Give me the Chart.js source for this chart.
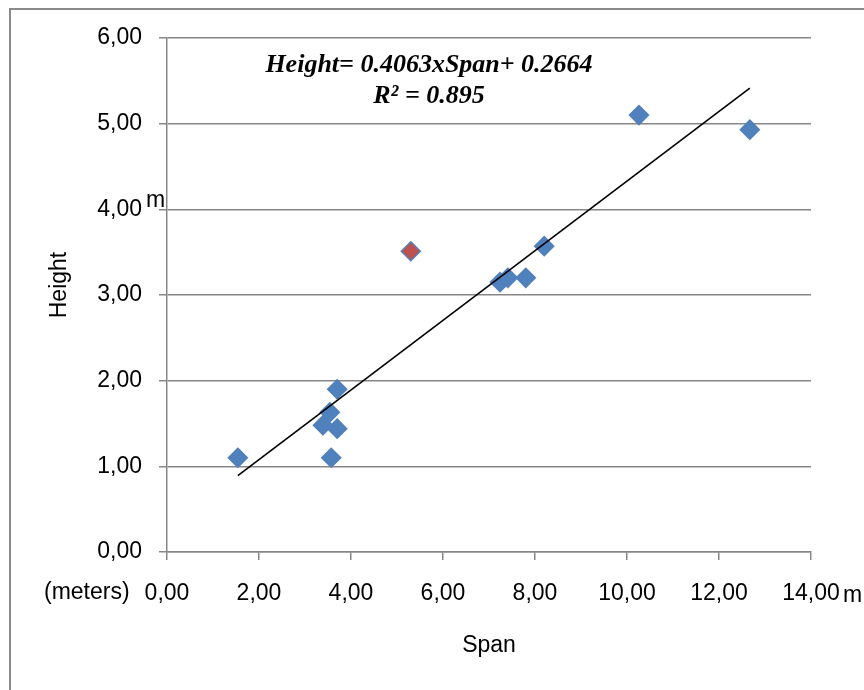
<!DOCTYPE html>
<html>
<head>
<meta charset="utf-8">
<script src="https://cdn.jsdelivr.net/npm/chart.js@4"></script>
<style>
  html, body { margin: 0; padding: 0; background: #fff; overflow: hidden; }
  #wrap { position: relative; width: 864px; height: 690px; }
  #frame { position: absolute; left: 9px; top: 8px; width: 1000px; height: 1000px;
           border: 2px solid #8a8a8a; pointer-events: none; }
</style>
</head>
<body>
<div id="wrap">
  <div id="frame"></div>
  <canvas id="chart"></canvas>
</div>
<script>
// span (x) and height (y) in meters
const spanValues   = [1.54, 3.57, 3.70, 3.54, 3.39, 3.70, 5.30, 7.24, 7.41, 7.80, 8.20, 10.26, 12.67];
const heightValues = [1.10, 1.10, 1.90, 1.63, 1.48, 1.44, 3.51, 3.15, 3.20, 3.20, 3.57, 5.10, 4.93];
const highlighted  = [false, false, false, false, false, false, true, false, false, false, false, false, false];

// linear trend from the chart label
const slope = 0.4063;
const intercept = 0.2664;
const rSquared = 0.895;

const xTicks = [0, 2, 4, 6, 8, 10, 12, 14];
const yTicks = [0, 1, 2, 3, 4, 5, 6];

const blue = "#4f81bd";
const red = "#c0504d";
const gridColor = "#878787";
const font = "'Liberation Sans', Arial, sans-serif";

const points = spanValues.map((x, i) => ({ x, y: heightValues[i] }));
const xMin = Math.min(...spanValues);
const xMax = Math.max(...spanValues);
const trend = [xMin, xMax].map(x => ({ x, y: slope * x + intercept }));

const comma = v => v.toFixed(2).replace(".", ",");

// extra labels the library has no slot for
const notes = {
  id: "notes",
  afterDraw(chart) {
    const ctx = chart.ctx;
    ctx.save();
    ctx.fillStyle = "#000";
    ctx.font = "bold italic 26px 'Liberation Serif', 'Times New Roman', serif";
    ctx.textAlign = "center";
    ctx.textBaseline = "alphabetic";
    ctx.fillText(`Height= ${slope}xSpan+ ${intercept}`, 429, 72);
    ctx.fillText(`R² = ${rSquared}`, 429, 103);

    ctx.font = `23px ${font}`;
    ctx.textAlign = "left";
    ctx.fillText("m", 146, 207);
    ctx.fillText("(meters)", 44, 599);
    ctx.fillText("m", 843, 602);

    ctx.translate(60, 285);
    ctx.rotate(-Math.PI / 2);
    ctx.textAlign = "center";
    ctx.textBaseline = "middle";
    ctx.fillText("Height", 0, 0);
    ctx.restore();
  }
};

new Chart(document.getElementById("chart"), {
  type: "scatter",
  data: {
    datasets: [{
      type: "line",
      data: trend,
      borderColor: "#000",
      borderWidth: 1.6,
      pointRadius: 0,
      fill: false
    }, {
      data: points,
      pointStyle: "rectRot",
      pointRadius: 9.5,
      pointHoverRadius: 9.5,
      pointBackgroundColor: highlighted.map(h => h ? red : blue),
      pointBorderColor: blue,
      pointBorderWidth: 1.5
    }]
  },
  options: {
    responsive: true,
    maintainAspectRatio: false,
    animation: false,
    layout: { padding: { left: 0, right: 53, top: 38, bottom: 0 } },
    plugins: { legend: { display: false }, tooltip: { enabled: false } },
    scales: {
      x: {
        type: "linear",
        min: 0,
        max: 14,
        afterBuildTicks: s => { s.ticks = xTicks.map(value => ({ value })); },
        afterFit: s => { s.height = 138; },
        ticks: {
          callback: comma,
          color: "#000",
          padding: 20,
          maxRotation: 0,
          font: { family: font, size: 23 }
        },
        grid: { drawOnChartArea: false, tickLength: 8, color: gridColor, lineWidth: 1.5 },
        border: { color: gridColor, width: 1.5 },
        title: {
          display: true,
          text: "Span",
          color: "#000",
          padding: { top: 0, bottom: 31 },
          font: { family: font, size: 23 }
        }
      },
      y: {
        type: "linear",
        min: 0,
        max: 6,
        afterBuildTicks: s => { s.ticks = yTicks.map(value => ({ value })); },
        afterFit: s => { s.width = 167; },
        ticks: {
          callback: comma,
          color: "#000",
          padding: 17,
          font: { family: font, size: 23 }
        },
        grid: { tickLength: 8, color: gridColor, lineWidth: 1.5 },
        border: { color: gridColor, width: 1.5 }
      }
    }
  },
  plugins: [notes]
});
</script>
</body>
</html>
